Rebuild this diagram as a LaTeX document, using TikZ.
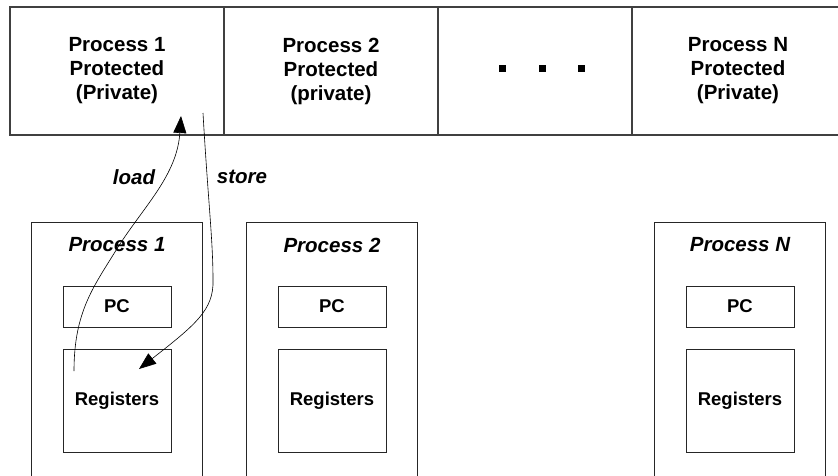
\documentclass[tikz,border=0pt]{standalone}
\usepackage{fontspec}
\setmainfont{Liberation Sans}
\usetikzlibrary{arrows.meta}
\begin{document}
\begin{tikzpicture}[x=1pt,y=-1pt,
  cell/.style={draw=black!75,line width=1.2pt,inner sep=0pt,minimum height=128pt,
    align=center,font=\fontsize{20.5}{24}\selectfont\bfseries},
  procbox/.style={draw=black!85,line width=0.8pt,inner sep=0pt,minimum width=171pt,minimum height=270pt},
  regbox/.style={draw=black!85,line width=0.8pt,inner sep=0pt,minimum width=108pt,
    font=\fontsize{18.5}{22}\selectfont\bfseries},
  plabel/.style={font=\fontsize{20.5}{24}\selectfont\bfseries\itshape},
  access/.style={line width=0.6pt,-{Triangle[length=17pt,width=13pt]}}]
\useasboundingbox (0,0) rectangle (838,475);
%
% --- geschuetzter Speicher der Prozesse (oben) ---
\node[cell,minimum width=214pt] (cell1) at (117,71) {Process 1\\Protected\\(Private)};
\node[cell,minimum width=214pt] (cell2) at (331,71) {Process 2\\Protected\\(private)};
\node[cell,minimum width=194pt] (cell3) at (535,71) {};
\node[cell,minimum width=212pt] (cellN) at (738,71) {Process N\\Protected\\(Private)};
% Punkte
\foreach \x in {502,542,581}
  \fill (\x-3.5,64.5) rectangle ++(7,7);
%
% --- Prozesse mit PC und Registern (unten) ---
\foreach \i/\cx in {1/117,2/332,N/740} {
  \node[procbox] (proc\i) at (\cx,357) {};
  \node[plabel] (lab\i) at (\cx,245) {Process \i};
  \node[regbox,minimum height=41pt] (pc\i) at (\cx,306.5) {PC};
  \node[regbox,minimum height=103pt] (reg\i) at (\cx,400.5) {Registers};
}
%
% --- load / store ---
\coordinate (loadfrom) at (74,371);
\coordinate (loadmid) at (118,247);
\coordinate (loadto) at (181,116);
\coordinate (storefrom) at (203,113);
\coordinate (storebend) at (213,280);
\coordinate (storeto) at (139,369);
\draw[access] (loadfrom) .. controls (74,310) and (95,285) .. (loadmid)
  .. controls (145,205) and (177,175) .. (loadto);
\draw[access] (storefrom) .. controls (208,200) and (213,240) .. (storebend)
  .. controls (214,310) and (195,325) .. (storeto);
\node[plabel] (load) at (134,177) {load};
\node[plabel] (store) at (242,177) {store};
\end{tikzpicture}
\end{document}
